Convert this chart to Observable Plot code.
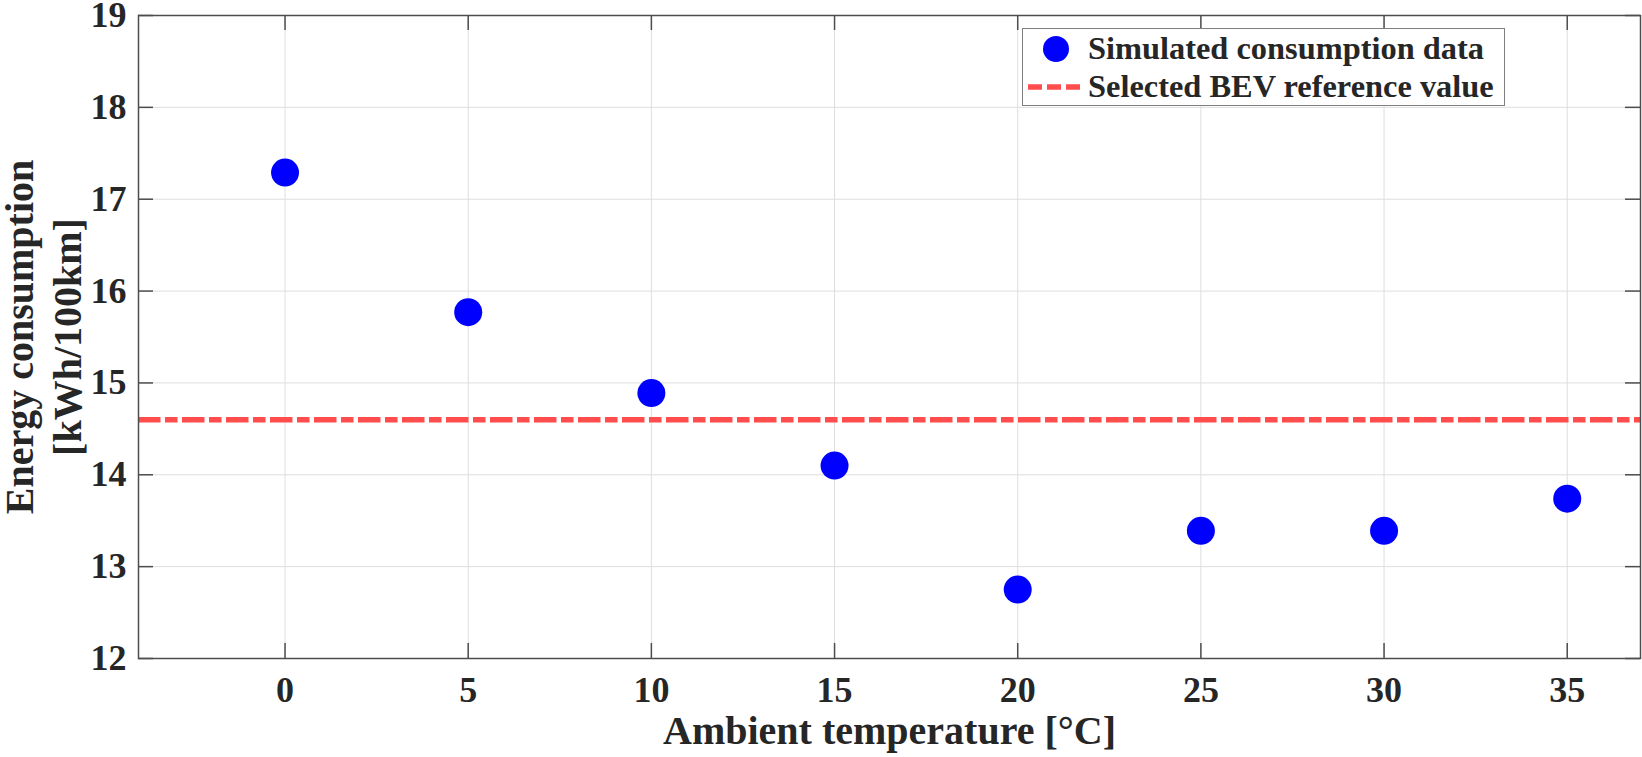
<!DOCTYPE html>
<html>
<head>
<meta charset="utf-8">
<script src="https://cdn.jsdelivr.net/npm/d3@7"></script>
<script src="https://cdn.jsdelivr.net/npm/@observablehq/plot@0.6"></script>
<style>
  html, body { margin: 0; padding: 0; background: #fff; }
  #wrap { position: relative; width: 1642px; height: 757px; }
  #legend { position: absolute; left: 1022px; top: 28px; }
  svg text { font-family: "Liberation Serif", "Times New Roman", serif; }
</style>
</head>
<body>
<div id="wrap"></div>
<script>
// ---- data ----
const temperatures = [0, 5, 10, 15, 20, 25, 30, 35];
const consumption = [17.29, 15.77, 14.89, 14.10, 12.75, 13.39, 13.39, 13.74];
const referenceValue = [14.60];
const xTicks = [0, 5, 10, 15, 20, 25, 30, 35];
const yTicks = [12, 13, 14, 15, 16, 17, 18, 19];
const xLabel = "Ambient temperature [°C]";
const yLabel = "Energy consumption\n[kWh/100km]";
const legendLabels = ["Simulated consumption data", "Selected BEV reference value"];

// ---- layout ----
const W = 1642, H = 757;
const mL = 138, mR = 2, mT = 15, mB = 99;
const innerW = W - mL - mR, innerH = H - mT - mB;
const tickLen = 15;
const axisColor = "#4d4d4d";
const textColor = "#262626";
const font = "Liberation Serif";

const points = temperatures.map((t, i) => ({t, e: consumption[i]}));

const chart = Plot.plot({
  width: W, height: H,
  marginLeft: mL, marginRight: mR, marginTop: mT, marginBottom: mB,
  style: {fontFamily: font, color: textColor, background: "white", overflow: "visible"},
  x: {domain: [-4, 37], ticks: xTicks},
  y: {domain: [12, 19], ticks: yTicks},
  marks: [
    Plot.gridX(xTicks, {stroke: "#dedede", strokeOpacity: 1}),
    Plot.gridY(yTicks, {stroke: "#dedede", strokeOpacity: 1}),
    // inward ticks (bottom/top/left/right)
    Plot.tickX(xTicks, {x: d => d, insetTop: innerH - tickLen, stroke: axisColor, strokeWidth: 1.5}),
    Plot.tickX(xTicks, {x: d => d, insetBottom: innerH - tickLen, stroke: axisColor, strokeWidth: 1.5}),
    Plot.tickY(yTicks, {y: d => d, insetRight: innerW - tickLen, stroke: axisColor, strokeWidth: 1.5}),
    Plot.tickY(yTicks, {y: d => d, insetLeft: innerW - tickLen, stroke: axisColor, strokeWidth: 1.5}),
    Plot.axisX(xTicks, {anchor: "bottom", tickSize: 0, tickPadding: 18, tickFormat: d3.format("d"), fontSize: 36, fontWeight: "bold", fill: textColor, label: null}),
    Plot.axisY(yTicks, {anchor: "left", tickSize: 0, tickPadding: 12, tickFormat: d3.format("d"), fontSize: 36, fontWeight: "bold", fill: textColor, label: null}),
    Plot.ruleY(referenceValue, {stroke: "#ff4d4d", strokeWidth: 5.5, strokeDasharray: "22.5,4.5,12.5,4.5"}),
    Plot.dot(points, {x: "t", y: "e", r: 14, fill: "#0000ff", stroke: "none"}),
    Plot.frame({stroke: axisColor, strokeWidth: 1.5}),
    Plot.text([xLabel], {frameAnchor: "bottom", lineAnchor: "bottom", dy: 85, fontSize: 40, fontWeight: "bold", fill: textColor}),
    Plot.text([yLabel], {frameAnchor: "left", rotate: -90, lineAnchor: "middle", textAnchor: "middle", lineHeight: 1.2, dx: 40.7 - mL, fontSize: 40, fontWeight: "bold", fill: textColor})
  ]
});
document.getElementById("wrap").appendChild(chart);

// ---- legend ----
const lw = 483, lh = 78;
const leg = d3.select("#wrap").append("svg")
  .attr("id", "legend").attr("width", lw).attr("height", lh)
  .style("overflow", "visible");
leg.append("rect").attr("x", 0.5).attr("y", 0.5).attr("width", lw - 1).attr("height", lh - 1)
  .attr("fill", "white").attr("stroke", "#7f7f7f").attr("stroke-width", 1);
leg.append("circle").attr("cx", 34).attr("cy", 21).attr("r", 13).attr("fill", "#0000ff");
leg.append("line").attr("x1", 6).attr("x2", 61).attr("y1", 59).attr("y2", 59)
  .attr("stroke", "#ff4d4d").attr("stroke-width", 5.5).attr("stroke-dasharray", "14,5");
leg.selectAll("text.lbl").data(legendLabels).join("text")
  .attr("class", "lbl")
  .attr("x", 66).attr("y", (d, i) => 31 + i * 38)
  .attr("font-size", 32.4).attr("font-weight", "bold").attr("fill", textColor)
  .text(d => d);
</script>
</body>
</html>
